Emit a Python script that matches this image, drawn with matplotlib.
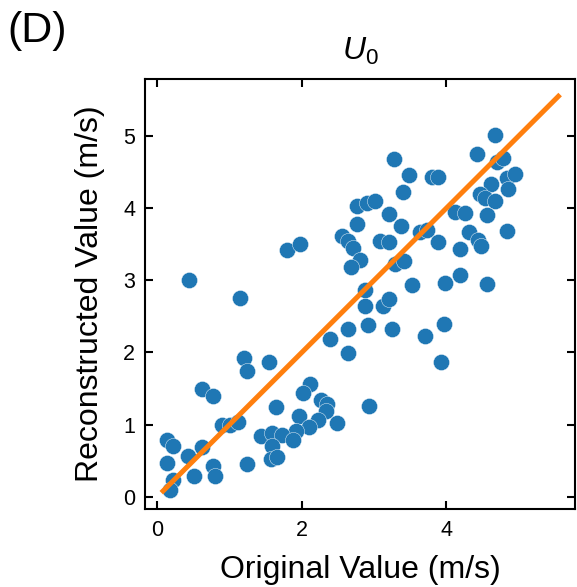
import matplotlib
matplotlib.use('Agg')
import matplotlib.pyplot as plt
import numpy as np

# original vs reconstructed U0 values (m/s)
original = [
    4.67, 4.43, 4.70, 4.79, 3.28, 3.49, 3.80, 3.89, 4.84, 4.95,
    4.62, 4.86, 3.40, 4.47, 4.54, 4.67, 2.76, 2.90, 3.01, 3.21,
    4.12, 4.26, 4.56, 2.77, 3.37, 3.64, 3.73, 4.31, 4.84, 2.56,
    2.64, 2.71, 3.08, 3.20, 3.88, 4.44, 4.48, 1.79, 1.97, 4.19,
    2.81, 2.68, 3.29, 3.41, 0.44, 4.19, 3.98, 4.56, 3.53, 2.88,
    1.14, 2.88, 3.12, 3.21, 2.64, 2.92, 3.25, 3.97, 2.39, 3.70,
    2.64, 3.93, 1.20, 1.24, 1.55, 2.12, 2.02, 0.62, 0.77, 2.27,
    2.35, 2.33, 1.64, 2.93, 1.96, 2.23, 2.48, 0.89, 1.00, 1.12,
    2.10, 1.92, 1.43, 1.59, 1.73, 1.88, 1.59, 0.14, 0.22, 0.62,
    0.43, 0.14, 0.77, 1.24, 1.57, 1.65, 0.51, 0.80, 0.22, 0.18,
]
reconstructed = [
    5.02, 4.75, 4.64, 4.70, 4.68, 4.46, 4.43, 4.43, 4.42, 4.47,
    4.33, 4.26, 4.22, 4.19, 4.14, 4.10, 4.03, 4.07, 4.10, 3.92,
    3.95, 3.93, 3.91, 3.78, 3.75, 3.67, 3.70, 3.67, 3.68, 3.62,
    3.54, 3.45, 3.55, 3.53, 3.53, 3.56, 3.48, 3.42, 3.50, 3.43,
    3.28, 3.19, 3.23, 3.27, 3.01, 3.07, 2.96, 2.95, 2.94, 2.87,
    2.75, 2.65, 2.65, 2.74, 2.33, 2.38, 2.33, 2.40, 2.18, 2.23,
    1.99, 1.87, 1.92, 1.74, 1.87, 1.56, 1.44, 1.49, 1.39, 1.34,
    1.29, 1.19, 1.24, 1.26, 1.12, 1.06, 1.02, 0.99, 1.00, 1.04,
    0.96, 0.91, 0.84, 0.88, 0.85, 0.79, 0.70, 0.79, 0.70, 0.69,
    0.57, 0.47, 0.43, 0.46, 0.52, 0.55, 0.29, 0.29, 0.23, 0.10,
]

# identity line endpoints
line_lo, line_hi = 0.08, 5.55

plt.rcParams['font.family'] = ['Liberation Sans', 'DejaVu Sans']
plt.rcParams['mathtext.fontset'] = 'custom'
plt.rcParams['mathtext.it'] = 'Liberation Sans:italic'
plt.rcParams['mathtext.rm'] = 'Liberation Sans'

fig = plt.figure(figsize=(5.77, 5.87), dpi=100)
ax = fig.add_axes([0.2513, 0.1329, 0.7452, 0.7325])

ax.scatter(original, reconstructed, s=135, color='#1f77b4',
           edgecolor='white', linewidth=0.3, zorder=2)
ax.plot([line_lo, line_hi], [line_lo, line_hi], color='#ff7f0e',
        linewidth=3.6, zorder=3)

ax.set_xlim(-0.17, 5.78)
ax.set_ylim(-0.17, 5.79)
ax.set_xticks([0, 2, 4])
ax.set_yticks([0, 1, 2, 3, 4, 5])

ax.tick_params(direction='in', length=6, width=1.5, top=True, right=True,
               labelsize=15.5)
ax.tick_params(axis='x', pad=8)
ax.tick_params(axis='y', pad=7)
for sp in ax.spines.values():
    sp.set_linewidth(1.5)

ax.set_xlabel('Original Value (m/s)', fontsize=23, labelpad=10)
ax.set_ylabel('Reconstructed Value (m/s)', fontsize=23, labelpad=13)
ax.set_title(r'$U_0$', fontsize=23, pad=14)

fig.text(0.012, 0.982, '(D)', fontsize=31, ha='left', va='top')

fig.savefig('out.png', dpi=100)
